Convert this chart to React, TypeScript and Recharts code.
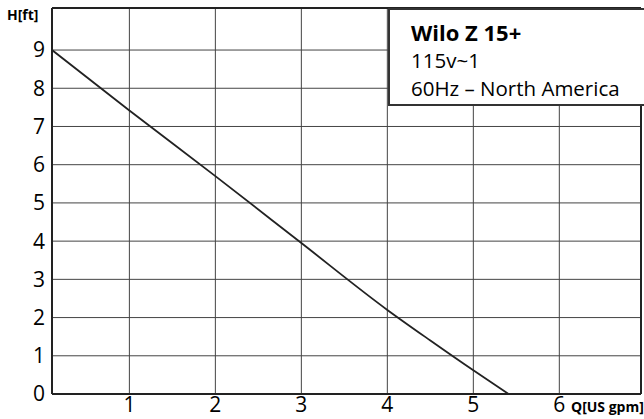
import { LineChart, Line, XAxis, YAxis, CartesianGrid, ReferenceLine } from 'recharts';

// Kennlinie Wilo Z 15+ (Q in US gpm, H in ft)
const flow = [0.1, 1, 2, 3, 4, 4.5, 5, 5.41];
const head = [9, 7.42, 5.7, 3.95, 2.2, 1.4, 0.62, 0];

const xTicks = [1, 2, 3, 4, 5, 6];
const yTicks = [0, 1, 2, 3, 4, 5, 6, 7, 8, 9];

const titleLines = ['Wilo Z 15+', '115v~1', '60Hz – North America'];

const FONT = '"Open Sans", "DejaVu Sans", sans-serif';

export default function App() {
  const data = flow.map((q, i) => ({ q, h: head[i] }));

  return (
    <div style={{ position: 'absolute', left: 0, top: 0, width: 644, height: 419, background: '#fff', fontFamily: FONT }}>
      <LineChart width={644} height={419} data={data} margin={{ top: 8, right: 3, left: 0, bottom: 0 }}>
        <CartesianGrid stroke="#444" strokeWidth={1} />
        <XAxis
          dataKey="q"
          type="number"
          domain={[0.1, 6.95]}
          ticks={xTicks}
          allowDataOverflow
          height={25}
          tickLine={false}
          tickSize={0}
          tickMargin={3}
          axisLine={{ stroke: '#222', strokeWidth: 2 }}
          tick={{ fill: '#000', fontSize: 21, fontFamily: FONT }}
        />
        <YAxis
          type="number"
          domain={[0, 10.1]}
          ticks={yTicks}
          allowDataOverflow
          width={52}
          tickLine={false}
          tickSize={0}
          tickMargin={7}
          axisLine={{ stroke: '#222', strokeWidth: 2 }}
          tick={{ fill: '#000', fontSize: 21, fontFamily: FONT }}
        />
        <ReferenceLine y={10.1} stroke="#222" strokeWidth={2} />
        <ReferenceLine x={6.95} stroke="#222" strokeWidth={2} />
        <Line
          type="monotone"
          dataKey="h"
          stroke="#222"
          strokeWidth={1.8}
          dot={false}
          isAnimationActive={false}
        />
      </LineChart>

      {/* Achsenbeschriftungen */}
      <div style={{ position: 'absolute', left: 7, top: 5, fontSize: 14, fontWeight: 700, color: '#000' }}>H[ft]</div>
      <div style={{ position: 'absolute', left: 571, top: 397, fontSize: 14, fontWeight: 700, color: '#000', whiteSpace: 'nowrap' }}>
        Q[US gpm]
      </div>

      {/* Typenschild */}
      <div
        style={{
          position: 'absolute',
          left: 388,
          top: 8,
          width: 256,
          height: 98,
          boxSizing: 'border-box',
          background: '#fff',
          border: '2px solid #333',
          borderRight: 'none',
          padding: '8px 0 0 21px',
          color: '#000',
        }}
      >
        <div style={{ fontSize: 22, fontWeight: 700, lineHeight: '28px' }}>{titleLines[0]}</div>
        <div style={{ fontSize: 20.5, lineHeight: '27px', marginTop: 1 }}>{titleLines[1]}</div>
        <div style={{ fontSize: 20.5, lineHeight: '27px', marginTop: 1, whiteSpace: 'nowrap' }}>{titleLines[2]}</div>
      </div>
    </div>
  );
}
